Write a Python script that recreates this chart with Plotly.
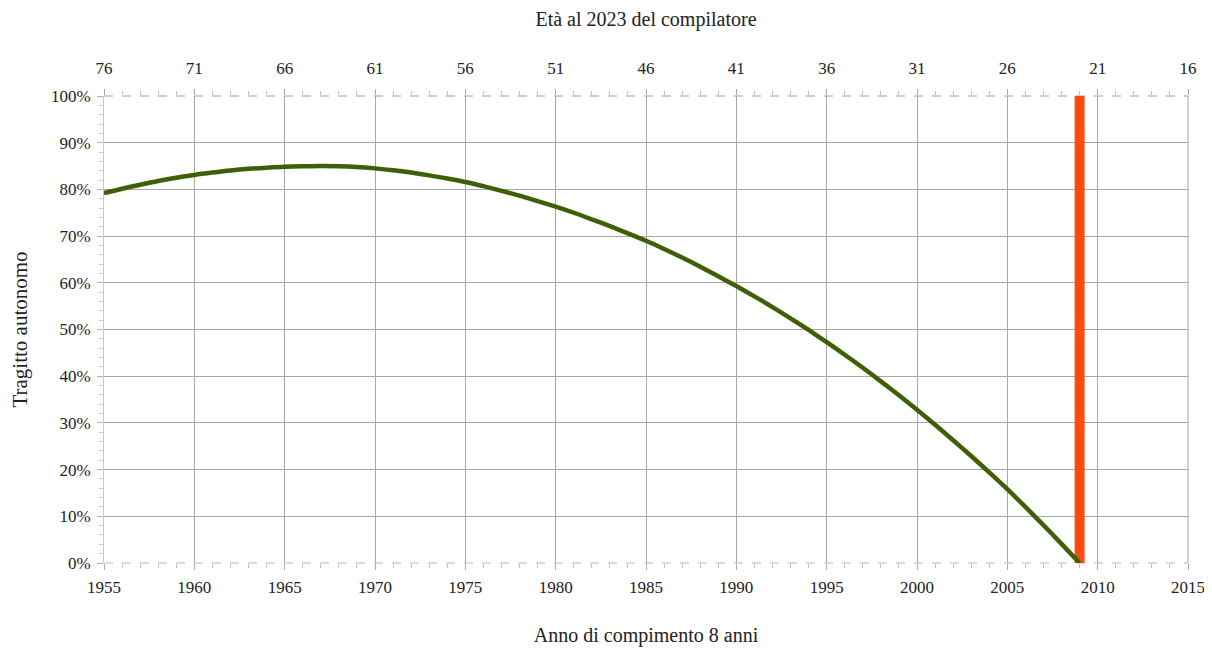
import plotly.graph_objects as go

# Data
years = list(range(1955, 2010))
share = [79.2, 80.15, 81.0, 81.8, 82.5, 83.1, 83.6, 84.05, 84.4, 84.65,
         84.85, 84.95, 85.0, 84.95, 84.8, 84.5, 84.1, 83.6, 83.0, 82.35,
         81.6, 80.7, 79.7, 78.65, 77.5, 76.3, 75.0, 73.6, 72.15, 70.6,
         69.0, 67.25, 65.4, 63.45, 61.4, 59.3, 57.1, 54.8, 52.4, 49.9,
         47.3, 44.6, 41.8, 38.9, 35.9, 32.8, 29.6, 26.3, 22.9, 19.4,
         15.8, 12.0, 8.1, 4.1, 0.0]
marker_year = [2009, 2009]
marker_share = [0, 100]

x_ticks = [1955, 1960, 1965, 1970, 1975, 1980, 1985, 1990, 1995, 2000, 2005, 2010, 2015]
age_labels = ["76", "71", "66", "61", "56", "51", "46", "41", "36", "31", "26", "21", "16"]
y_ticks = [0, 10, 20, 30, 40, 50, 60, 70, 80, 90, 100]
y_labels = ["0%", "10%", "20%", "30%", "40%", "50%", "60%", "70%", "80%", "90%", "100%"]

FONT = "Liberation Serif"
GRID = "#a8a8a8"
TXT = "#222222"

fig = go.Figure()
fig.add_trace(go.Scatter(x=marker_year, y=marker_share, mode="lines",
                         line=dict(color="#ff4a12", width=10), showlegend=False,
                         hoverinfo="skip"))
fig.add_trace(go.Scatter(x=years, y=share, mode="lines",
                         line=dict(color="#3e5f05", width=4.5, shape="spline",
                                   smoothing=0.8),
                         showlegend=False, cliponaxis=False))
# invisible trace to activate the top axis
fig.add_trace(go.Scatter(x=[x_ticks[0]], y=[0], xaxis="x2", mode="markers",
                         marker=dict(opacity=0), showlegend=False, hoverinfo="skip"))

fig.update_layout(
    width=1204, height=642,
    margin=dict(l=96, r=24, t=88, b=87),
    paper_bgcolor="white", plot_bgcolor="white",
    font=dict(family=FONT, size=16, color=TXT),
    xaxis=dict(range=[1955, 2015], tickvals=x_ticks, showgrid=True,
               gridcolor=GRID, gridwidth=1, zeroline=False, automargin=False,
               showline=False, ticks="outside", ticklen=6, tickcolor=GRID,
               ticklabelstandoff=3,
               minor=dict(dtick=1, tick0=1955, ticks="outside", ticklen=4,
                          tickcolor="#c0c0c0", showgrid=False),
               tickfont=dict(family=FONT, size=17, color=TXT),
               title=dict(text="Anno di compimento 8 anni",
                          font=dict(family=FONT, size=20, color=TXT), standoff=31)),
    xaxis2=dict(overlaying="x", side="top", range=[1955, 2015],
                tickvals=x_ticks, ticktext=age_labels, showgrid=False,
                zeroline=False, showline=False, ticks="outside", ticklen=6,
                tickcolor=GRID, automargin=False, ticklabelstandoff=8,
                minor=dict(dtick=1, tick0=1955, ticks="outside", ticklen=4,
                           tickcolor="#c0c0c0", showgrid=False),
                tickfont=dict(family=FONT, size=17, color=TXT),
                title=dict(text="Età al 2023 del compilatore",
                           font=dict(family=FONT, size=20, color=TXT), standoff=28)),
    yaxis=dict(range=[0, 100], tickvals=y_ticks, ticktext=y_labels,
               showgrid=True, gridcolor=GRID, gridwidth=1, zeroline=False,
               showline=True, linecolor="#c8c8c8", linewidth=1, automargin=False,
               ticks="outside", ticklen=6, tickcolor="#b0b0b0",
               ticklabelstandoff=3,
               minor=dict(dtick=2, ticks="outside", ticklen=4,
                          tickcolor="#c8c8c8", showgrid=False),
               tickfont=dict(family=FONT, size=17, color=TXT),
               title=dict(text="Tragitto autonomo",
                          font=dict(family=FONT, size=21, color=TXT), standoff=18)),
    shapes=[
        dict(type="line", xref="paper", yref="paper", x0=0, x1=1, y0=1, y1=1,
             line=dict(color="#a0a0a0", width=1.2, dash="dash"), layer="below"),
        dict(type="line", xref="paper", yref="paper", x0=0, x1=1, y0=0, y1=0,
             line=dict(color="#b8b8b8", width=1.2, dash="dash"), layer="below"),
        dict(type="line", xref="paper", yref="paper", x0=1, x1=1, y0=0, y1=1,
             line=dict(color=GRID, width=1), layer="below"),
    ],
)

fig.write_html("out.html")
